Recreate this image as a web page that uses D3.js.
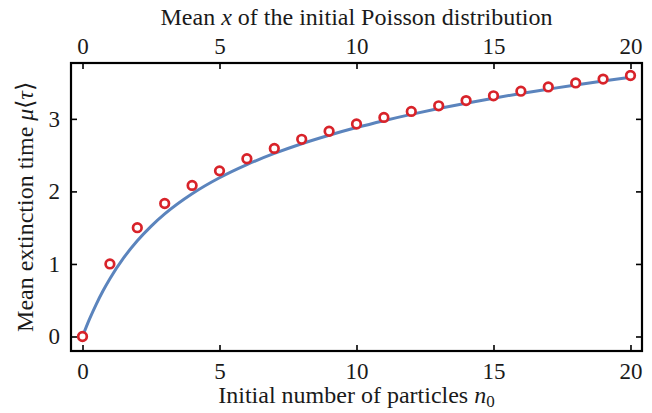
<!DOCTYPE html>
<html>
<head>
<meta charset="utf-8">
<script src="https://cdn.jsdelivr.net/npm/d3@7"></script>
<style>
  body { margin: 0; background: #fff; }
</style>
</head>
<body>
<svg id="chart" width="652" height="413"></svg>
<script>
// discrete points: initial number of particles n0
var n0 = [0,1,2,3,4,5,6,7,8,9,10,11,12,13,14,15,16,17,18,19,20];
var tauPoints = [0,1.0,1.5,1.833,2.083,2.283,2.45,2.593,2.718,2.829,2.929,3.02,3.103,3.18,3.252,3.318,3.381,3.44,3.495,3.548,3.598];

// continuous curve: mean x of Poisson distribution
var curveX = [0,0.25,0.5,0.75,1,1.5,2,2.5,3,4,5,6,7,8,9,10,11,12,13,14,15,16,17,18,19,20];
var curveY = [0,0.235,0.444,0.63,0.797,1.083,1.319,1.518,1.689,1.967,2.188,2.369,2.523,2.657,2.774,2.88,2.975,3.062,3.142,3.216,3.285,3.35,3.41,3.468,3.522,3.573];

var xTicks = [0,5,10,15,20];
var yTicks = [0,1,2,3];

var serif = "Liberation Serif";

var svg = d3.select("#chart");
var margin = {top: 63, right: 10, bottom: 62, left: 71};
var width = 652 - margin.left - margin.right,
    height = 413 - margin.top - margin.bottom;

var g = svg.append("g")
  .attr("transform", "translate(" + margin.left + "," + margin.top + ")");

var x = d3.scaleLinear().domain([-0.42, 20.42]).range([0, width]);
var y = d3.scaleLinear().domain([-0.2, 3.77]).range([height, 0]);

// axes, ticks pointing inward
var tickLen = 6;
function styleAxis(sel) {
  sel.attr("font-family", serif).attr("font-size", 23);
  sel.select(".domain").remove();
  sel.selectAll(".tick line").attr("stroke", "#000").attr("stroke-width", 1.6);
  sel.selectAll(".tick text").attr("fill", "#1a1a1a");
}

g.append("g")
  .attr("transform", "translate(0," + height + ")")
  .call(d3.axisBottom(x).tickValues(xTicks).tickSize(-tickLen).tickPadding(12).tickFormat(d3.format("d")))
  .call(styleAxis);

g.append("g")
  .call(d3.axisTop(x).tickValues(xTicks).tickSize(-tickLen).tickPadding(9).tickFormat(d3.format("d")))
  .call(styleAxis);

g.append("g")
  .call(d3.axisLeft(y).tickValues(yTicks).tickSize(-tickLen).tickPadding(11).tickFormat(d3.format("d")))
  .call(styleAxis);

g.append("g")
  .attr("transform", "translate(" + width + ",0)")
  .call(d3.axisRight(y).tickValues(yTicks).tickSize(-tickLen).tickFormat(""))
  .call(styleAxis);

// frame
g.append("rect")
  .attr("width", width)
  .attr("height", height)
  .attr("fill", "none")
  .attr("stroke", "#000")
  .attr("stroke-width", 2.2);

// curve
var line = d3.line()
  .x(function(d, i) { return x(curveX[i]); })
  .y(function(d) { return y(d); })
  .curve(d3.curveMonotoneX);

g.append("path")
  .datum(curveY)
  .attr("d", line)
  .attr("fill", "none")
  .attr("stroke", "#5b84bd")
  .attr("stroke-width", 3);

// points
g.selectAll(".pt")
  .data(tauPoints)
  .enter().append("circle")
  .attr("class", "pt")
  .attr("cx", function(d, i) { return x(n0[i]); })
  .attr("cy", function(d) { return y(d); })
  .attr("r", 4.3)
  .attr("fill", "#fff")
  .attr("stroke", "#d8232a")
  .attr("stroke-width", 2.7);

// titles
svg.append("text")
  .attr("x", margin.left + width / 2)
  .attr("y", 403)
  .attr("text-anchor", "middle")
  .attr("font-family", serif)
  .attr("font-size", 24)
  .attr("fill", "#1a1a1a")
  .html('Initial number of particles <tspan font-style="italic">n</tspan><tspan font-size="17" dy="4">0</tspan>');

svg.append("text")
  .attr("x", margin.left + width / 2)
  .attr("y", 25)
  .attr("text-anchor", "middle")
  .attr("font-family", serif)
  .attr("font-size", 24)
  .attr("fill", "#1a1a1a")
  .html('Mean <tspan font-style="italic">x</tspan> of the initial Poisson distribution');

svg.append("text")
  .attr("transform", "translate(33," + (margin.top + height / 2) + ") rotate(-90)")
  .attr("text-anchor", "middle")
  .attr("font-family", serif)
  .attr("font-size", 24)
  .attr("fill", "#1a1a1a")
  .html('Mean extinction time <tspan font-style="italic">μ</tspan>⟨<tspan font-style="italic">τ</tspan>⟩');
</script>
</body>
</html>
